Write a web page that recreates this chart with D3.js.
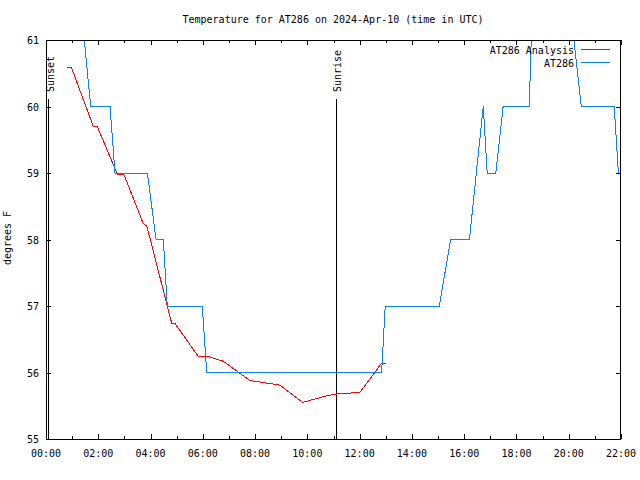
<!DOCTYPE html>
<html><head><meta charset="utf-8">
<script src="https://cdn.jsdelivr.net/npm/d3@7"></script>
<style>
body{margin:0;background:#fff;}
svg{display:block;font-family:"DejaVu Sans Mono","Liberation Mono",monospace;font-size:10px;}
</style></head>
<body><svg id="c" width="640" height="480"></svg>
<script>
// ---- data (hours UTC, degrees F) ----
const titleText = "Temperature for AT286 on 2024-Apr-10 (time in UTC)";
const yLabel = "degrees F";
const xTickHours = [0,2,4,6,8,10,12,14,16,18,20,22];
const xTickLabels = ["00:00","02:00","04:00","06:00","08:00","10:00","12:00","14:00","16:00","18:00","20:00","22:00"];
const yTicks = [55,56,57,58,59,60,61];
const seriesNames = ["AT286 Analysis","AT286"];
const seriesColors = ["#ff0000","#0a80f5"];

const anaHours = [0.82,0.98,1.81,1.96,2.73,2.98,3.72,3.86,4.81,4.93,5.83,6.21,6.78,7.80,8.95,9.82,10.74,11.18,12.01,12.84,13.00];
const anaTemps = [60.58,60.58,59.70,59.70,58.98,58.98,58.24,58.20,56.74,56.74,56.24,56.24,56.17,55.88,55.81,55.55,55.65,55.68,55.70,56.14,56.14];

const obsHours = [1.22,1.71,2.45,2.64,3.88,4.21,4.49,4.64,5.98,6.15,12.84,12.98,15.05,15.48,16.20,16.73,16.88,17.21,17.49,18.49,18.64,19.92,20.48,21.74,21.90];
const obsTemps = [62,60,60,59,59,58,58,57,57,56,56,57,57,58,58,60,59,59,60,60,62,62,60,60,59];

const eventNames = ["Sunset","Sunrise"];
const eventHours = [0.09,11.08];

// ---- layout ----
const L=46, R=621, T=40, B=439;
const svg = d3.select("#c");
const x = d3.scaleLinear().domain([0,22]).range([L,R]);
const y = d3.scaleLinear().domain([55,61]).range([B,T]);

svg.append("defs").append("clipPath").attr("id","clip")
  .append("rect").attr("x",L).attr("y",T).attr("width",R-L).attr("height",B-T);

// title
svg.append("text").attr("x",333).attr("y",23).attr("text-anchor","middle").text(titleText);
// y label
svg.append("text").attr("transform","translate(11,238) rotate(-90)").attr("text-anchor","middle").text(yLabel);

// axes with ticks (bottom/left labelled, top/right mirrored)
const minorHours = d3.range(0,23,1);
const axG = svg.append("g").attr("shape-rendering","crispEdges").attr("stroke","#000");
minorHours.forEach(h=>{
  const len = (h%2===0)?5:3;
  const xx = Math.round(x(h))+0.5;
  axG.append("line").attr("x1",xx).attr("x2",xx).attr("y1",B).attr("y2",B-len);
  axG.append("line").attr("x1",xx).attr("x2",xx).attr("y1",T).attr("y2",T+len);
});
yTicks.forEach(v=>{
  const yy = Math.round(y(v))+0.5;
  axG.append("line").attr("x1",L).attr("x2",L+5).attr("y1",yy).attr("y2",yy);
  axG.append("line").attr("x1",R).attr("x2",R-5).attr("y1",yy).attr("y2",yy);
});
xTickHours.forEach((h,i)=>{
  svg.append("text").attr("x",x(h)).attr("y",457).attr("text-anchor","middle").text(xTickLabels[i]);
});
yTicks.forEach(v=>{
  svg.append("text").attr("x",39).attr("y",y(v)+4).attr("text-anchor","end").text(String(v));
});

// sunrise / sunset lines
eventHours.forEach((h,i)=>{
  const xx = Math.round(x(h))+0.5;
  svg.append("line").attr("x1",xx).attr("x2",xx).attr("y1",99).attr("y2",B)
    .attr("stroke","#000").attr("shape-rendering","crispEdges");
  svg.append("text").attr("transform",`translate(${x(h)+5.5},92) rotate(-90)`).text(eventNames[i]);
});

// series
const line = d3.line().x(d=>x(d[0])).y(d=>y(d[1]));
const dataG = svg.append("g").attr("clip-path","url(#clip)");
dataG.append("path").datum(anaHours.map((h,i)=>[h,anaTemps[i]]))
  .attr("d",line).attr("fill","none").attr("stroke",seriesColors[0]).attr("stroke-width",1).attr("shape-rendering","crispEdges");
dataG.append("path").datum(obsHours.map((h,i)=>[h,obsTemps[i]]))
  .attr("d",line).attr("fill","none").attr("stroke",seriesColors[1]).attr("stroke-width",1).attr("shape-rendering","crispEdges");

// border
svg.append("rect").attr("x",L+0.5).attr("y",T+0.5).attr("width",R-L-1).attr("height",B-T)
  .attr("fill","none").attr("stroke","#000").attr("shape-rendering","crispEdges");

// legend
seriesNames.forEach((n,i)=>{
  const ly = 49.5 + i*13;
  svg.append("text").attr("x",574).attr("y",ly+4).attr("text-anchor","end").text(n);
  svg.append("line").attr("x1",581).attr("x2",610).attr("y1",ly).attr("y2",ly)
    .attr("stroke",seriesColors[i]).attr("shape-rendering","crispEdges");
});
</script></body></html>
